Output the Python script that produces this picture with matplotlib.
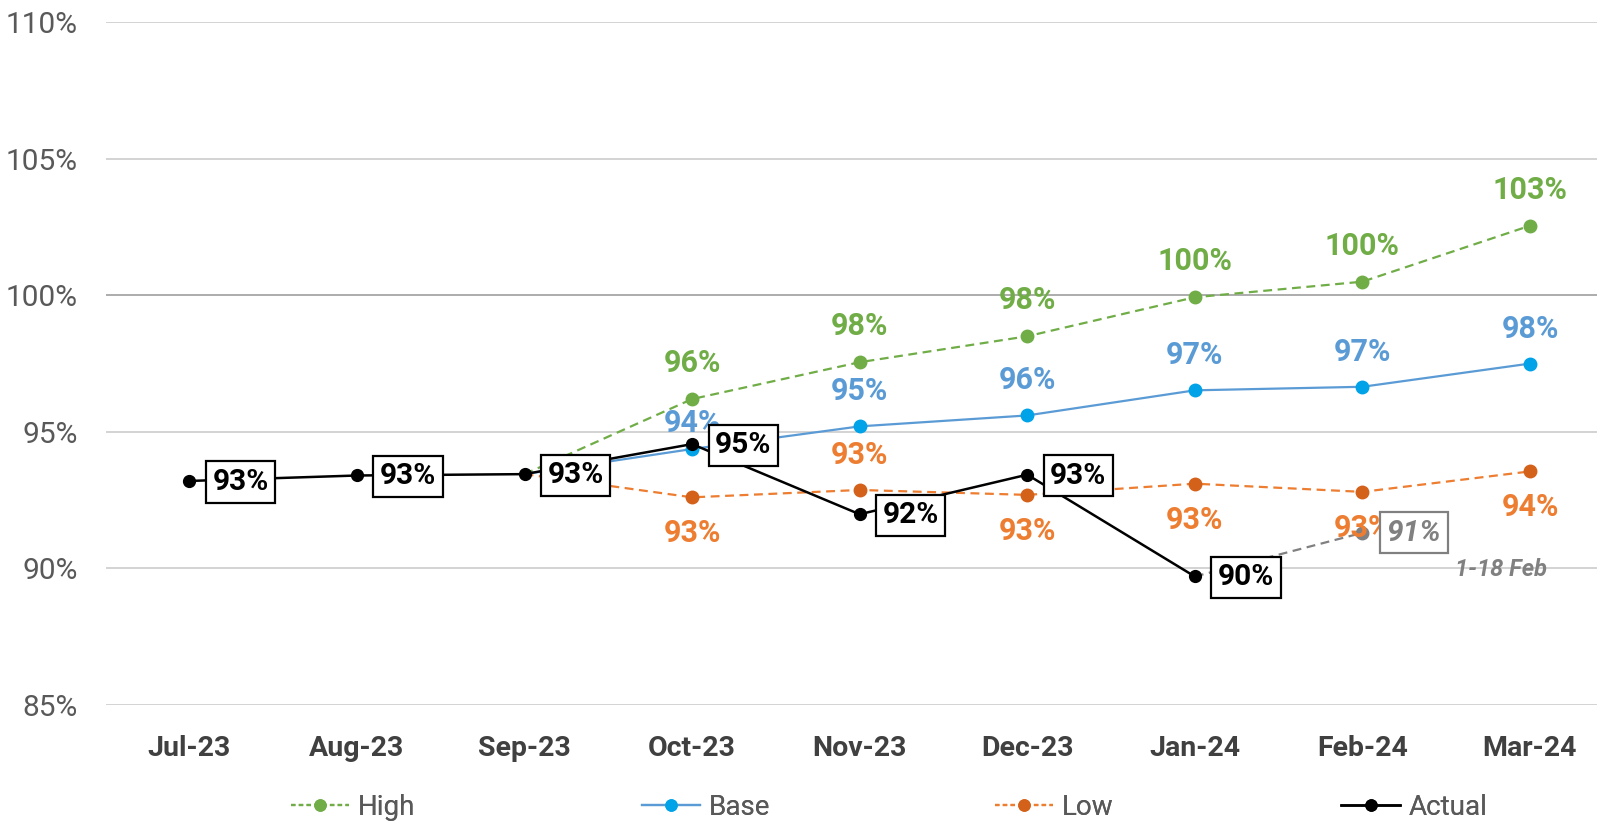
import numpy as np
import matplotlib.pyplot as plt
from matplotlib.lines import Line2D

plt.rcParams['font.family'] = ['Roboto', 'DejaVu Sans']

# data
months = ['Jul-23', 'Aug-23', 'Sep-23', 'Oct-23', 'Nov-23', 'Dec-23', 'Jan-24', 'Feb-24', 'Mar-24']
actual = [93.2, 93.4, 93.45, 94.55, 91.98, 93.43, 89.7]
partial_feb = 91.3          # 1-18 Feb only
high = [93.45, 96.2, 97.55, 98.5, 99.93, 100.5, 102.55]   # from Sep-23
base = [93.45, 94.37, 95.2, 95.6, 96.52, 96.65, 97.5]
low = [93.45, 92.6, 92.87, 92.69, 93.1, 92.8, 93.55]
yticks = [85, 90, 95, 100, 105, 110]

GREEN = '#70AD47'
BLUE_LINE = '#5B9BD5'
BLUE_MARK = '#00A3E8'
ORANGE = '#ED7D31'
ORANGE_MARK = '#D4611A'
GRAY = '#808080'

fig = plt.figure(figsize=(15.97, 8.25), dpi=100)
ax = fig.add_axes([0.0661, 0.1457, 0.9444, 0.8272])

x = np.arange(len(months))
xs = x[2:]

for yv in yticks:
    ax.axhline(yv, color='#A6A6A6' if yv == 100 else '#D0D0D0', lw=1.3, zorder=0)

ax.plot(xs, high, color=GREEN, lw=1.6, ls=(0, (4, 2.5)), marker='o', ms=9,
        markevery=list(range(1, len(xs))), zorder=2)
ax.plot(xs, base, color=BLUE_LINE, lw=1.6, marker='o', ms=9, mfc=BLUE_MARK, mec=BLUE_MARK,
        markevery=list(range(1, len(xs))), zorder=2)
ax.plot(xs, low, color=ORANGE, lw=1.6, ls=(0, (4, 2.5)), marker='o', ms=9,
        mfc=ORANGE_MARK, mec=ORANGE_MARK, markevery=list(range(1, len(xs))), zorder=2)

# partial month
ax.plot([x[6], x[7]], [actual[-1], partial_feb], color=GRAY, lw=1.6, ls=(0, (4, 2.5)),
        zorder=3)
ax.plot([x[7]], [partial_feb], 'o', color=GRAY, ms=9, zorder=3)

ax.plot(x[:len(actual)], actual, color='black', lw=1.8, marker='o', ms=8.5, zorder=4)

# label offsets in pixels (a few labels sit where Excel pushed them)
base_dy = [26, 35, 35, 35, 35, 35]
low_dy = [-36, 35, -36, -36, -36, -36]

lbl = dict(fontsize=22, fontweight='bold', ha='center', va='center',
           textcoords='offset pixels')
for xi, v in zip(xs[1:], high[1:]):
    ax.annotate(f'{v:.0f}%', (xi, v), xytext=(0, 36), color=GREEN, zorder=5, **lbl)
for xi, v, dy in zip(xs[1:], base[1:], base_dy):
    ax.annotate(f'{v:.0f}%', (xi, v), xytext=(0, dy), color=BLUE_LINE, zorder=5, **lbl)
for xi, v, dy in zip(xs[1:], low[1:], low_dy):
    ax.annotate(f'{v:.0f}%', (xi, v), xytext=(0, dy), color=ORANGE, zorder=5, **lbl)

for xi, v in zip(x, actual):
    ax.annotate(f'{v:.0f}%', (xi, v), xytext=(23, -1), textcoords='offset pixels',
                fontsize=21.5, fontweight='bold', ha='left', va='center', color='black',
                zorder=6,
                bbox=dict(boxstyle='square,pad=0.22', fc='white', ec='black', lw=1.6))
ax.annotate(f'{partial_feb:.0f}%', (x[7], partial_feb), xytext=(24, 0),
            textcoords='offset pixels', fontsize=21.5, fontweight='bold', style='italic',
            ha='left', va='center', color=GRAY, zorder=6,
            bbox=dict(boxstyle='square,pad=0.22', fc='white', ec=GRAY, lw=1.6))
ax.text(7.83, 89.95, '1-18 Feb', fontsize=17, fontweight='bold', style='italic',
        color=GRAY, ha='center', va='center', zorder=6)

ax.set_xlim(-0.5, 8.5)
ax.set_ylim(85, 110)
ax.set_yticks(yticks)
ax.set_yticklabels([f'{v}%' for v in yticks], fontsize=21.5, color='#595959')
ax.set_xticks(x)
ax.set_xticklabels(months, fontsize=20.5, fontweight='bold', color='#404040')
ax.tick_params(length=0)
ax.tick_params(axis='y', pad=20)
ax.tick_params(axis='x', pad=22)
for s in ax.spines.values():
    s.set_visible(False)

handles = [
    Line2D([], [], color=GREEN, lw=1.6, ls=(0, (2, 1.5)), marker='o', ms=8),
    Line2D([], [], color=BLUE_LINE, lw=1.6, marker='o', ms=8, mfc=BLUE_MARK, mec=BLUE_MARK),
    Line2D([], [], color=ORANGE, lw=1.6, ls=(0, (2, 1.5)), marker='o', ms=8,
           mfc=ORANGE_MARK, mec=ORANGE_MARK),
    Line2D([], [], color='black', lw=1.8, marker='o', ms=8),
]
names = ['High', 'Base', 'Low', 'Actual']
anchors = [0.182, 0.402, 0.623, 0.840]
for h, n, ax_x in zip(handles, names, anchors):
    leg = fig.legend([h], [n], loc='center left', bbox_to_anchor=(ax_x, 0.021),
                     frameon=False, fontsize=20, handlelength=2.1, handletextpad=0.3,
                     borderpad=0, borderaxespad=0, labelcolor='#595959')
    fig.add_artist(leg)

fig.savefig('out.png', dpi=100)
